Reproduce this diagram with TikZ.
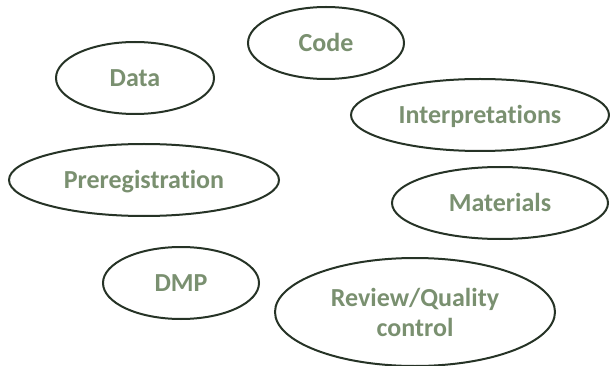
\documentclass[tikz,border=0pt]{standalone}
\usepackage{fontspec}
\setmainfont{Carlito}[Ligatures=NoCommon]
\usetikzlibrary{shapes.geometric}
\definecolor{txtgreen}{HTML}{7A9070}
\definecolor{edgedark}{HTML}{263326}
\begin{document}
\begin{tikzpicture}[x=1pt,y=-1pt,
  oval/.style={ellipse, draw=edgedark, line width=2pt, inner sep=0pt,
    text=txtgreen, font=\fontsize{26}{30}\selectfont\bfseries,
    minimum height=72pt},
  oneline/.style={text height=16.7pt, text depth=0pt}]
\useasboundingbox (0,0) rectangle (610,366);
\node[oval, oneline, minimum width=156pt] (code) at (326,43) {Code};
\node[oval, oneline, minimum width=158pt] (data) at (135,78) {Data};
\node[oval, oneline, minimum width=258pt] (interp) at (480,115) {Interpretations};
\node[oval, oneline, minimum width=270pt] (prereg) at (144,180) {Preregistration};
\node[oval, oneline, minimum width=216pt] (mat) at (500,203) {Materials};
\node[oval, oneline, minimum width=156pt] (dmp) at (181,283) {DMP};
\node[oval, align=center, minimum width=280pt, minimum height=108pt] (review) at (415,312) {Review/Quality\\control};
\end{tikzpicture}
\end{document}
